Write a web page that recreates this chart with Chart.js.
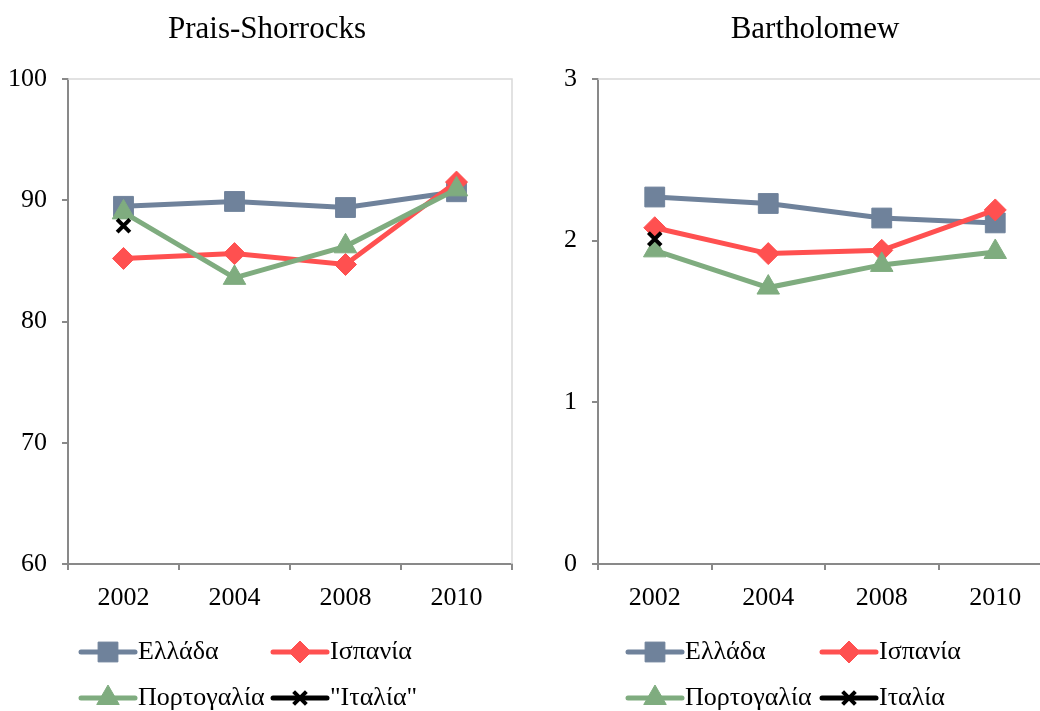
<!DOCTYPE html>
<html>
<head>
<meta charset="utf-8">
<script src="https://cdn.jsdelivr.net/npm/chart.js@4.4.0/dist/chart.umd.min.js"></script>
<style>
  html, body { margin: 0; padding: 0; background: #fff; overflow: hidden; width: 1040px; height: 711px; position: relative; }
  canvas { position: absolute; top: 0; }
  #left { left: 0; }
  #right { left: 520px; }
</style>
</head>
<body>
<canvas id="left" width="540" height="711"></canvas>
<canvas id="right" width="600" height="711"></canvas>
<script>
const years = ['2002', '2004', '2008', '2010'];

// Prais-Shorrocks
const psGreece   = [89.5, 89.9, 89.4, 90.7];
const psSpain    = [85.2, 85.6, 84.7, 91.5];
const psPortugal = [89.0, 83.6, 86.2, 90.9];
const psItaly    = [87.9, null, null, null];
const psTicks    = [60, 70, 80, 90, 100];

// Bartholomew
const bGreece   = [2.27, 2.23, 2.14, 2.11];
const bSpain    = [2.08, 1.92, 1.94, 2.19];
const bPortugal = [1.94, 1.71, 1.85, 1.93];
const bItaly    = [2.01, null, null, null];
const bTicks    = [0, 1, 2, 3];

const serif = "'Liberation Serif', 'Times New Roman', serif";
const axisGray = '#898989';
const colors = { greece: '#6f829b', spain: '#ff5050', portugal: '#7fac7f', italy: '#000000' };

// plot frame (top + right light border), title and a line+marker legend
const framePlugin = {
    id: 'frame',
    beforeDatasetsDraw(chart) {
        const { ctx, chartArea } = chart;
        ctx.save();
        ctx.strokeStyle = '#d9d9d9';
        ctx.lineWidth = 1.5;
        ctx.beginPath();
        ctx.moveTo(chartArea.left, chartArea.top);
        ctx.lineTo(chartArea.right, chartArea.top);
        ctx.lineTo(chartArea.right, chartArea.bottom);
        ctx.stroke();
        ctx.restore();
    },
    afterDraw(chart, args, opts) {
        const ctx = chart.ctx;
        ctx.save();
        ctx.fillStyle = '#000';
        ctx.textBaseline = 'middle';
        ctx.textAlign = 'center';
        ctx.font = '31px ' + serif;
        ctx.fillText(opts.title, opts.titleX, opts.titleY);

        ctx.font = '26px ' + serif;
        ctx.textAlign = 'left';
        chart.data.datasets.forEach((ds, i) => {
            const x = opts.legendX[i % 2];
            const y = opts.legendY[Math.floor(i / 2)];
            ctx.strokeStyle = ds.borderColor;
            ctx.lineWidth = ds.borderWidth;
            ctx.lineCap = 'round';
            ctx.beginPath();
            ctx.moveTo(x, y);
            ctx.lineTo(x + 54, y);
            ctx.stroke();
            ctx.lineCap = 'butt';
            ctx.fillStyle = ds.pointBackgroundColor;
            ctx.strokeStyle = ds.pointBorderColor;
            ctx.lineWidth = ds.pointBorderWidth;
            Chart.helpers.drawPoint(ctx, {
                pointStyle: ds.pointStyle,
                radius: ds.pointRadius,
                borderWidth: ds.pointBorderWidth
            }, x + 27, y);
            ctx.fillStyle = '#000';
            ctx.fillText(ds.label, x + 57, y);
        });
        ctx.restore();
    }
};

function series(label, data, color, style, radius, order) {
    return {
        label: label,
        data: data,
        borderColor: color,
        backgroundColor: color,
        borderWidth: 5,
        pointStyle: style,
        pointRadius: radius,
        pointHoverRadius: radius,
        pointBackgroundColor: color,
        pointBorderColor: color,
        pointBorderWidth: style === 'crossRot' ? 4 : 1,
        tension: 0,
        order: order
    };
}

function makeChart(id, cfg) {
    const ctx = document.getElementById(id).getContext('2d');
    return new Chart(ctx, {
        type: 'line',
        data: {
            labels: years,
            datasets: [
                series('Ελλάδα', cfg.greece, colors.greece, 'rect', 14, 4),
                series('Ισπανία', cfg.spain, colors.spain, 'rectRot', 11, 3),
                series('Πορτογαλία', cfg.portugal, colors.portugal, 'triangle', 13, 2),
                series(cfg.italyLabel, cfg.italy, colors.italy, 'crossRot', 9, 1)
            ]
        },
        plugins: [framePlugin],
        options: {
            responsive: false,
            animation: false,
            layout: { padding: { left: 0, top: 79, right: cfg.padRight, bottom: 92 } },
            plugins: {
                legend: { display: false },
                tooltip: { enabled: false },
                frame: {
                    title: cfg.title,
                    titleX: cfg.titleX,
                    titleY: 30,
                    legendX: cfg.legendX,
                    legendY: [652, 698]
                }
            },
            scales: {
                x: {
                    type: 'category',
                    offset: true,
                    afterFit(scale) { scale.height = 55; },
                    grid: {
                        offset: true,
                        drawOnChartArea: false,
                        tickLength: 6,
                        color: axisGray,
                        lineWidth: 2
                    },
                    border: { color: axisGray, width: 2 },
                    ticks: {
                        color: '#000',
                        padding: 13,
                        maxRotation: 0,
                        font: { family: serif, size: 26 }
                    }
                },
                y: {
                    min: cfg.ticks[0],
                    max: cfg.ticks[cfg.ticks.length - 1],
                    afterFit(scale) { scale.width = cfg.axisWidth; },
                    afterBuildTicks(scale) { scale.ticks = cfg.ticks.map(v => ({ value: v })); },
                    grid: {
                        drawOnChartArea: false,
                        tickLength: 6,
                        color: axisGray,
                        lineWidth: 2
                    },
                    border: { color: axisGray, width: 2 },
                    ticks: {
                        color: '#000',
                        padding: 15,
                        font: { family: serif, size: 26 }
                    }
                }
            }
        }
    });
}

makeChart('left', {
    greece: psGreece, spain: psSpain, portugal: psPortugal, italy: psItaly,
    italyLabel: '"Ιταλία"', ticks: psTicks,
    title: 'Prais-Shorrocks', titleX: 267,
    axisWidth: 68, padRight: 28,
    legendX: [81, 273]
});

makeChart('right', {
    greece: bGreece, spain: bSpain, portugal: bPortugal, italy: bItaly,
    italyLabel: 'Ιταλία', ticks: bTicks,
    title: 'Bartholomew', titleX: 295,
    axisWidth: 78, padRight: 68,
    legendX: [108, 302]
});
</script>
</body>
</html>
